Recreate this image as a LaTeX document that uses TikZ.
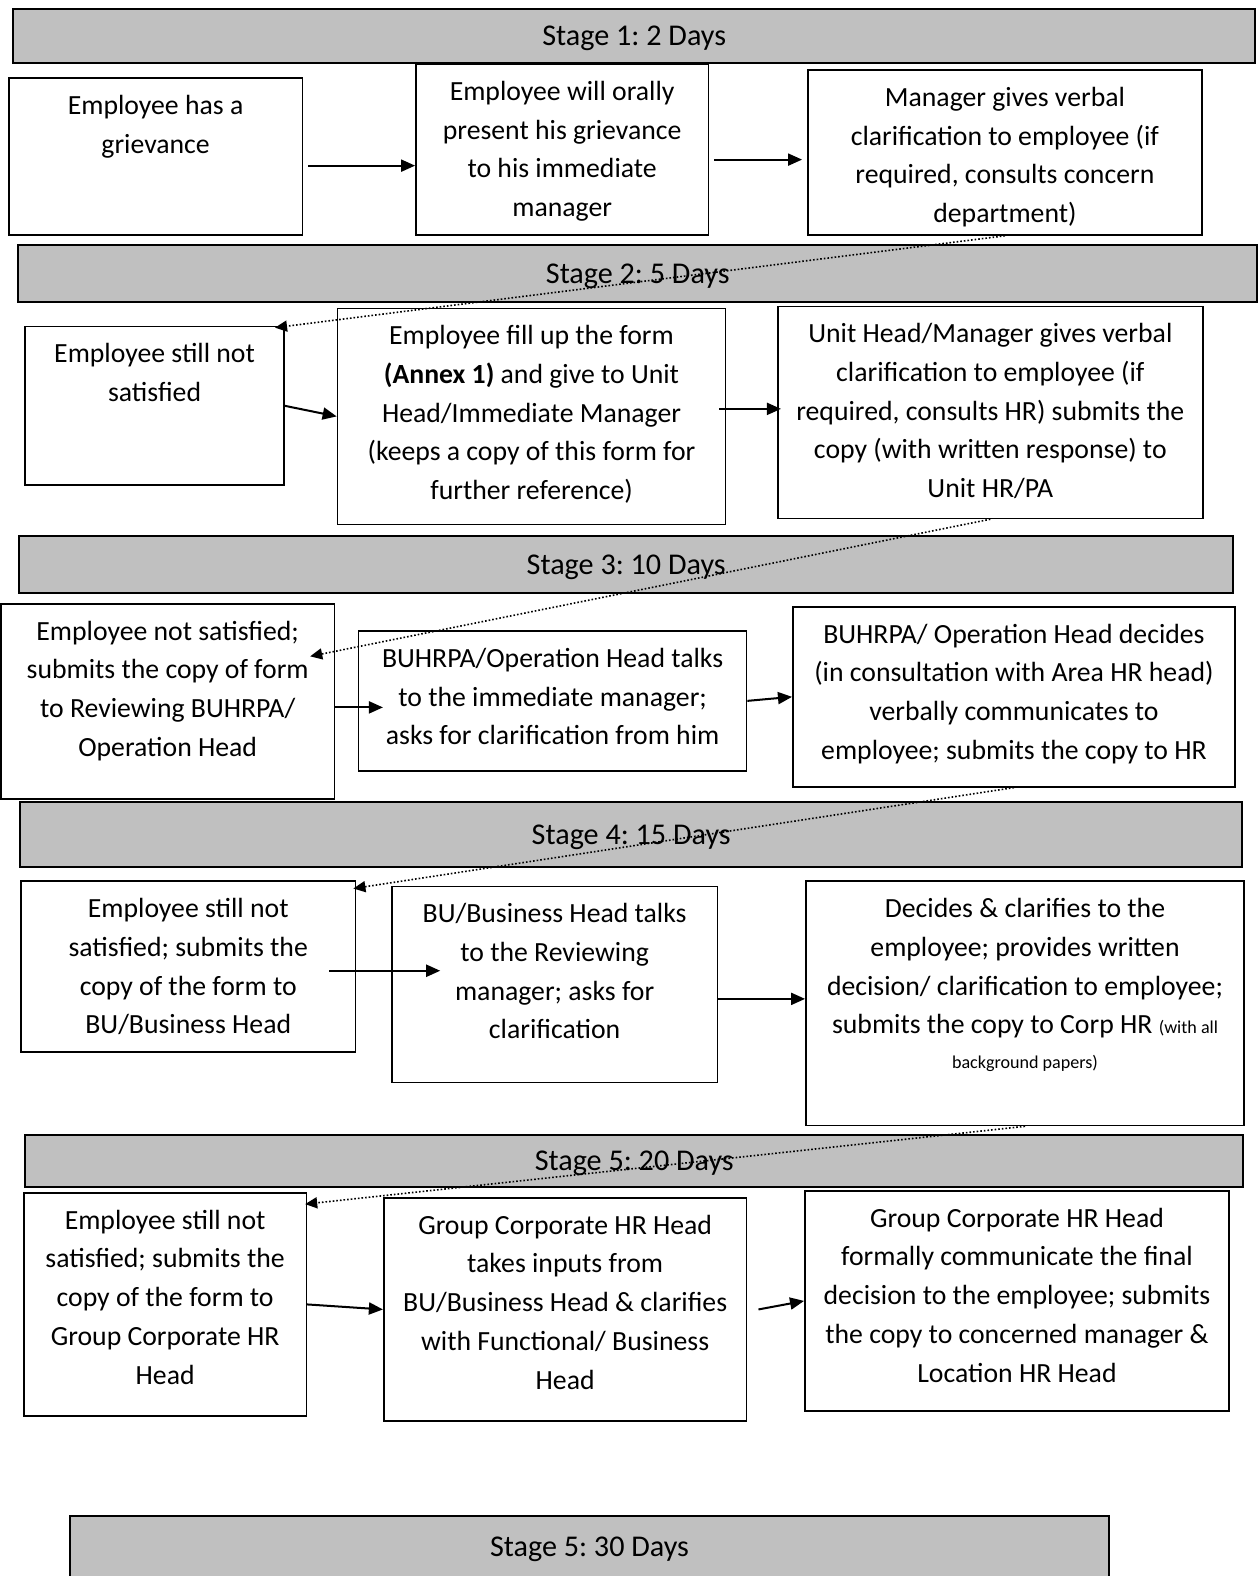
\documentclass[tikz,border=0pt]{standalone}
\usepackage{fontspec}
\setmainfont{Carlito}
\usetikzlibrary{arrows.meta}
\definecolor{bargray}{RGB}{192,192,192}
\frenchspacing
\tikzset{
  stage bar/.style 2 args={
    fill=bargray,
    draw=black,
    line width=1pt,
    anchor=north west,
    inner sep=0pt,
    text depth=0pt,
    font=\fontsize{15}{19.3}\selectfont,
    minimum width={#1*0.5pt},
    minimum height={#2*0.5pt},
  },
  white box/.style={
    fill=white,
    draw=black,
    line width=0.8pt,
    anchor=north west,
    inner xsep=0pt,
    inner ysep=4.5pt,
  },
  flow arrow/.style={line width=1pt, -{Triangle[length=7pt,width=6pt]}},
  back arrow/.style={densely dotted, line width=0.8pt, -{Triangle[length=6pt,width=5.5pt]}}
}
\newcommand{\boxtext}[3]{\parbox[t][\dimexpr #2pt/2-9pt\relax][t]{\dimexpr #1pt/2\relax}{\centering\strut #3}}
\newcommand{\smalltext}[1]{{\fontsize{9}{19.3}\selectfont #1}}

\begin{document}
\begin{tikzpicture}[x=0.5pt, y=-0.5pt, font=\fontsize{13.8}{19.3}\selectfont]
  \useasboundingbox (0,0) rectangle (1253,1568);

  % stage bars
  \node [stage bar={1236}{54}] (s1) at (12,8) {Stage 1: 2 Days};
  \node [stage bar={1233}{56}] (s2) at (17,243) {Stage 2: 5 Days};
  \node [stage bar={1208}{57}] (s3) at (18,532) {Stage 3: 10 Days};
  \node [stage bar={1216}{65}] (s4) at (19,797) {Stage 4: 15 Days};
  \node [stage bar={1212}{52}] (s5) at (24,1128) {Stage 5: 20 Days};
  \node [stage bar={1033}{61}] (s6) at (69,1507) {Stage 5: 30 Days};

  % stage 1
  \node [white box] (a1) at (8,77) {\boxtext{292}{156}{Employee has a\\grievance}};
  \node [white box] (a2) at (413,63) {\boxtext{291}{170}{Employee will orally\\present his grievance\\to his immediate\\manager}};
  \node [white box] (a3) at (803,69) {\boxtext{392}{164}{Manager gives verbal\\clarification to employee (if\\required, consults concern\\department)}};

  % stage 2
  \node [white box] (b1) at (24,324) {\boxtext{258}{158}{Employee still not\\satisfied}};
  \node [white box] (b2) at (335,306) {\boxtext{386}{215}{Employee fill up the form\\\textbf{(Annex 1)} and give to Unit\\Head/Immediate Manager\\(keeps a copy of this form for\\further reference)}};
  \node [white box] (b3) at (773,304) {\boxtext{423}{211}{Unit Head/Manager gives verbal\\clarification to employee (if\\required, consults HR) submits the\\copy (with written response) to\\Unit HR/PA}};

  % stage 3
  \node [white box] (c1) at (0,600) {\boxtext{332}{194}{Employee not satisfied;\\submits the copy of form\\to Reviewing BUHRPA/\\Operation Head}};
  \node [white box] (c2) at (356,627) {\boxtext{386}{139}{BUHRPA/Operation Head talks\\to the immediate manager;\\asks for clarification from him}};
  \node [white box] (c3) at (788,603) {\boxtext{440}{179}{BUHRPA/ Operation Head decides\\(in consultation with Area HR head)\\verbally communicates to\\employee; submits the copy to HR}};

  % stage 4
  \node [white box] (d1) at (20,876) {\boxtext{333}{170}{Employee still not\\satisfied; submits the\\copy of the form to\\BU/Business Head}};
  \node [white box] (d2) at (389,881) {\boxtext{324}{195}{BU/Business Head talks\\to the Reviewing\\manager; asks for\\clarification}};
  \node [white box] (d3) at (801,876) {\boxtext{436}{243}{Decides \& clarifies to the\\employee; provides written\\decision/ clarification to employee;\\submits the copy to Corp HR \smalltext{(with all}\\[-2pt]\smalltext{background papers)}}};

  % stage 5
  \node [white box] (e1) at (23,1186) {\boxtext{281}{222}{Employee still not\\satisfied; submits the\\copy of the form to\\Group Corporate HR\\Head}};
  \node [white box] (e2) at (381,1191) {\boxtext{361}{222}{Group Corporate HR Head\\takes inputs from\\BU/Business Head \& clarifies\\with Functional/ Business\\Head}};
  \node [white box] (e3) at (800,1184) {\boxtext{422}{219}{Group Corporate HR Head\\formally communicate the final\\decision to the employee; submits\\the copy to concerned manager \&\\Location HR Head}};

  % arrows inside a stage
  \draw [flow arrow] ([xshift=2.5pt,yshift=-4.5pt]a1.east) -- ([yshift=-8pt]a2.west);
  \draw [flow arrow] ([xshift=2.5pt,yshift=-5pt]a2.east) -- ([xshift=-2.5pt,yshift=-3.5pt]a3.west);
  \draw [flow arrow] (b1.east) -- (b2.west);
  \draw [flow arrow] ([xshift=-3.5pt,yshift=3.75pt]b2.east) -- ([xshift=2pt,yshift=1.75pt]b3.west);
  \draw [flow arrow] ([yshift=-3pt]c1.east) -- ([xshift=12.5pt,yshift=-3.25pt]c2.west);
  \draw [flow arrow] (c2.east) -- (c3.west);
  \draw [flow arrow] ([xshift=-13.5pt,yshift=-2pt]d1.east) -- ([xshift=24.5pt,yshift=6.75pt]d2.west);
  \draw [flow arrow] ([yshift=-7.25pt]d2.east) -- ([yshift=2.25pt]d3.west);
  \draw [flow arrow] (e1.east) -- (e2.west);
  \draw [flow arrow] ([xshift=5.5pt]e2.east) -- (e3.west);

  % dotted arrows to the next stage
  \draw [back arrow] (a3.south) -- ([xshift=-5pt,yshift=-1pt]b1.north east);
  \draw [back arrow] (b3.south) -- ([xshift=-12.5pt,yshift=-26.5pt]c1.north east);
  \draw [back arrow] (c3.south) -- ([xshift=-1.5pt,yshift=-4pt]d1.north east);
  \draw [back arrow] (d3.south) -- ([xshift=-1pt,yshift=-6pt]e1.north east);
\end{tikzpicture}
\end{document}
